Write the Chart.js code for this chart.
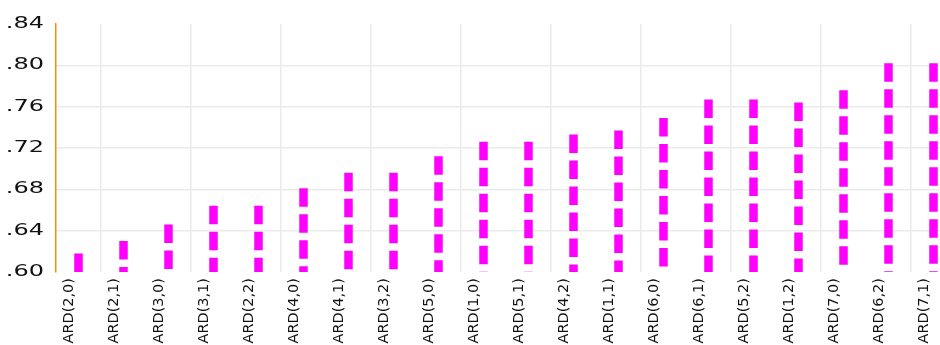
<!DOCTYPE html>
<html lang="en">
<head>
    <meta charset="UTF-8">
    <title>ARD model scores</title>
    <script src="https://cdn.jsdelivr.net/npm/chart.js"></script>
    <style>
        body { margin: 0; width: 940px; height: 345px; overflow: hidden; background: #fff; }
    </style>
</head>
<body>
    <canvas id="scoreChart" width="960" height="345"></canvas>

    <script>
        // Model orders and their scores
        const models = ['ARD(2,0)', 'ARD(2,1)', 'ARD(3,0)', 'ARD(3,1)', 'ARD(2,2)',
                        'ARD(4,0)', 'ARD(4,1)', 'ARD(3,2)', 'ARD(5,0)', 'ARD(1,0)',
                        'ARD(5,1)', 'ARD(4,2)', 'ARD(1,1)', 'ARD(6,0)', 'ARD(6,1)',
                        'ARD(5,2)', 'ARD(1,2)', 'ARD(7,0)', 'ARD(6,2)', 'ARD(7,1)'];
        const scores = [0.618, 0.630, 0.646, 0.664, 0.664,
                        0.681, 0.696, 0.696, 0.712, 0.726,
                        0.726, 0.733, 0.737, 0.749, 0.767,
                        0.767, 0.764, 0.776, 0.802, 0.802];
        const yTicks = [0.60, 0.64, 0.68, 0.72, 0.76, 0.80, 0.84];

        // Bars are stroked as thick dashed lines between base and value
        const dashedBars = {
            id: 'dashedBars',
            afterDatasetsDraw(chart) {
                const ctx = chart.ctx;
                const meta = chart.getDatasetMeta(0);
                ctx.save();
                ctx.beginPath();
                ctx.rect(chart.chartArea.left, chart.chartArea.top - 2,
                         chart.chartArea.width, chart.chartArea.height + 2);
                ctx.clip();
                ctx.strokeStyle = '#ff00ff';
                ctx.lineWidth = 8.5;
                ctx.lineCap = 'butt';
                ctx.setLineDash([18.5, 7.5]);
                meta.data.forEach(bar => {
                    const p = bar.getProps(['x', 'y', 'base'], true);
                    ctx.beginPath();
                    ctx.moveTo(p.x, p.y);
                    ctx.lineTo(p.x, p.base);
                    ctx.stroke();
                });
                ctx.restore();
            }
        };

        // Wide value labels on the left of the y axis
        const wideYLabels = {
            id: 'wideYLabels',
            afterDraw(chart) {
                const ctx = chart.ctx;
                const y = chart.scales.y;
                ctx.save();
                ctx.fillStyle = '#111';
                ctx.font = '15px "DejaVu Sans"';
                ctx.textAlign = 'right';
                ctx.textBaseline = 'middle';
                yTicks.forEach(v => {
                    ctx.save();
                    ctx.translate(44, y.getPixelForValue(v));
                    ctx.scale(1.6, 1);
                    ctx.fillText(v.toFixed(2).replace(/^0/, ''), 0, 0);
                    ctx.restore();
                });
                ctx.restore();
            }
        };

        const chart = new Chart(document.getElementById('scoreChart'), {
            type: 'bar',
            data: {
                labels: models,
                datasets: [{
                    data: scores,
                    backgroundColor: 'rgba(0,0,0,0)',
                    borderWidth: 0,
                    barThickness: 9
                }]
            },
            options: {
                responsive: false,
                animation: false,
                layout: { padding: { left: 56, right: 4, top: 24, bottom: 0 } },
                plugins: {
                    legend: { display: false },
                    tooltip: { enabled: false }
                },
                scales: {
                    x: {
                        afterFit: scale => { scale.height = 73; },
                        grid: {
                            offset: true,
                            drawTicks: false,
                            lineWidth: 1.5,
                            color: ctx => ctx.index % 2 === 1 ? '#ebebeb' : 'rgba(0,0,0,0)'
                        },
                        border: { display: false },
                        ticks: {
                            minRotation: 90,
                            maxRotation: 90,
                            autoSkip: false,
                            padding: 6,
                            labelOffset: -9,
                            color: '#111',
                            font: { family: 'DejaVu Sans', size: 14.5 }
                        }
                    },
                    y: {
                        min: 0.60,
                        max: 0.84,
                        afterBuildTicks: scale => {
                            scale.ticks = yTicks.map(v => ({ value: v }));
                        },
                        grid: {
                            drawTicks: false,
                            lineWidth: 1.5,
                            color: ctx => (ctx.index === 0 || ctx.index === yTicks.length - 1) ? 'rgba(0,0,0,0)' : '#ebebeb'
                        },
                        border: { color: '#ff8c00', width: 1.5 },
                        ticks: { display: false }
                    }
                }
            },
            plugins: [dashedBars, wideYLabels]
        });
    </script>
</body>
</html>
